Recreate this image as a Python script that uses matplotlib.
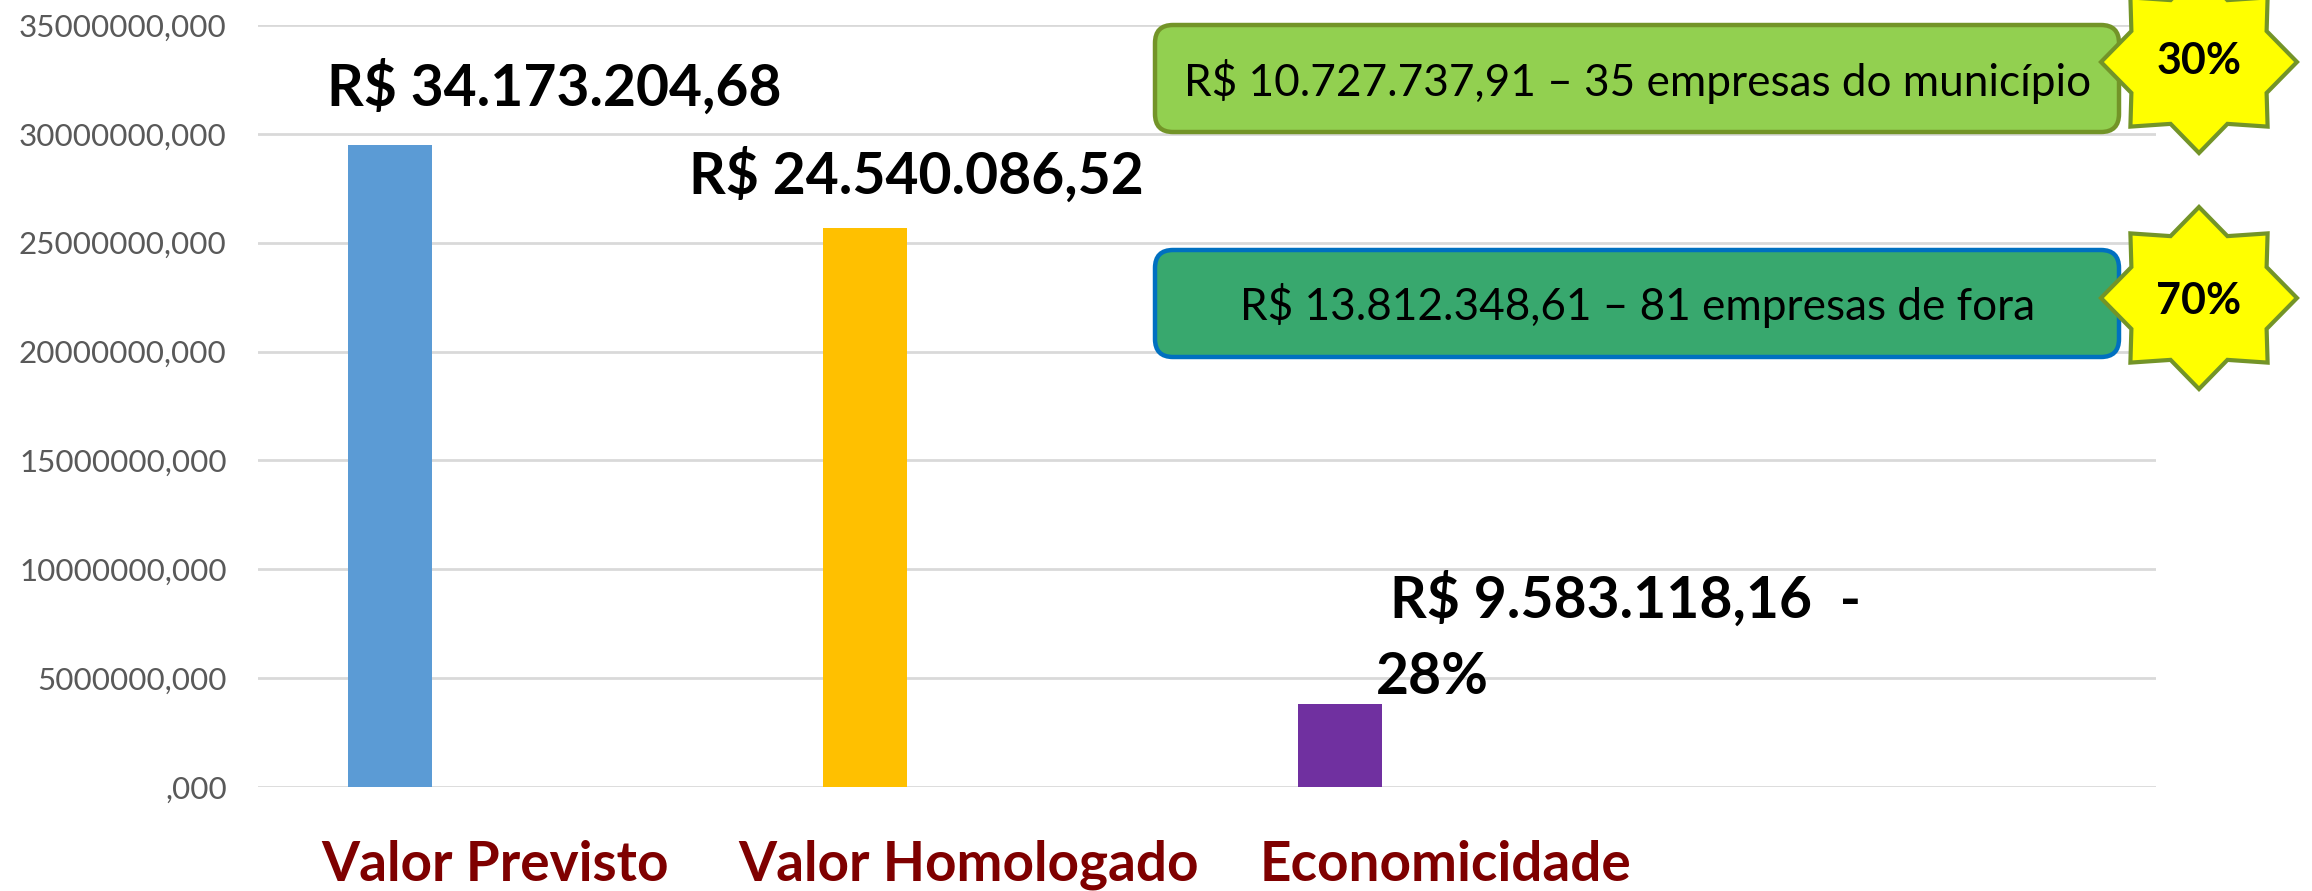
import matplotlib
matplotlib.use("Agg")
import matplotlib.pyplot as plt
from matplotlib.patches import FancyBboxPatch, Polygon
from matplotlib.transforms import Affine2D

categories = ["Valor Previsto", "Valor Homologado", "Economicidade"]
values = [29470000, 25680000, 3790000]
bar_colors = ["#5B9BD5", "#FFC000", "#7030A0"]
yticks = [0, 5000000, 10000000, 15000000, 20000000, 25000000, 30000000, 35000000]
ytick_labels = [",000", "5000000,000", "10000000,000", "15000000,000", "20000000,000",
                "25000000,000", "30000000,000", "35000000,000"]
box_labels = ["R$ 10.727.737,91 – 35 empresas do município", "R$ 13.812.348,61 – 81 empresas de fora"]
star_labels = ["30%", "70%"]

W, H = 2312, 891
plt.rcParams['font.family'] = ['Lato', 'DejaVu Sans']
fig = plt.figure(figsize=(W / 100, H / 100), dpi=100)
# top-left pixel coordinates, same as the reference image
px = Affine2D().scale(1 / W, -1 / H).translate(0, 1) + fig.transFigure

ax = fig.add_axes([258 / W, 1 - 787 / H, (2156 - 258) / W, (787 - 25) / H])
ax.bar(range(3), values, width=0.175, color=bar_colors, zorder=3)
ax.set_xlim(-0.278, 3.718)
ax.set_ylim(0, 35000000)
ax.set_yticks(yticks, ytick_labels, fontsize=22.6, color="#595959")
ax.tick_params(axis="y", length=0, pad=22.5)
ax.set_xticks([])
ax.grid(axis="y", color="#D9D9D9", lw=2, zorder=0)
for s in ax.spines.values():
    s.set_visible(False)
ax.set_axisbelow(True)

# value labels
big = dict(transform=px, fontsize=41, fontweight="bold", color="black", va="center", ha="left", zorder=6)
fig.text(327, 88, "R$ 34.173.204,68", **big)
fig.text(689, 176, "R$ 24.540.086,52", **big)
fig.text(1390, 600, "R$ 9.583.118,16  -", **big)
fig.text(1376, 678, "28%", **big)

# category labels
for x, c in zip([495, 969, 1445], categories):
    fig.text(x, 865, c, transform=px, fontsize=39.5, fontweight="bold", color="#7F0000", ha="center", va="center")

# callout boxes
box_tops = [24, 249]
box_face = ["#92D050", "#38A86E"]
box_edge = ["#739428", "#0070C0"]
for top, label, fc, ec in zip(box_tops, box_labels, box_face, box_edge):
    p = FancyBboxPatch((1155, top + 1), 964, 107, boxstyle="round,pad=0,rounding_size=18",
                       fc=fc, ec=ec, lw=3.2, transform=px, zorder=5)
    fig.add_artist(p)
    fig.text(1638, top + 57, label, transform=px, fontsize=31.8, color="black", ha="center", va="center", zorder=6)

# stars
star = [(0, 1), (.29, .68), (.7, .71), (.69, .34), (1, 0), (.69, -.34), (.7, -.71), (.29, -.68),
        (0, -1), (-.29, -.68), (-.7, -.71), (-.69, -.34), (-1, 0), (-.69, .34), (-.7, .71), (-.29, .68)]
for cy, tx_y, label in zip([62, 298], [61, 301], star_labels):
    pts = [(2199 + 98 * a, cy - 91 * b) for a, b in star]
    fig.add_artist(Polygon(pts, closed=True, fc="#FFFF00", ec="#739428", lw=3, transform=px, zorder=7))
    fig.text(2199, tx_y, label, transform=px, fontsize=31, fontweight="bold", color="black",
             ha="center", va="center", zorder=8)

fig.savefig("out.png", dpi=100)
